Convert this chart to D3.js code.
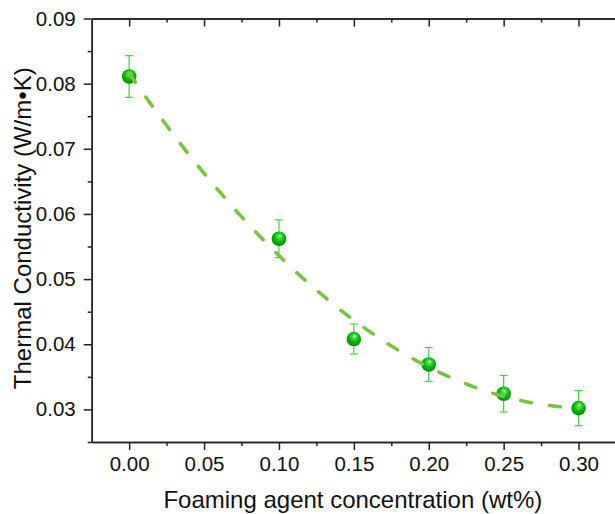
<!DOCTYPE html>
<html>
<head>
<meta charset="utf-8">
<script src="https://cdn.jsdelivr.net/npm/d3@7"></script>
<style>
  html, body { margin: 0; padding: 0; background: #fff; }
  svg { display: block; }
  text { font-family: "Liberation Sans", Arial, Helvetica, sans-serif; fill: #111; }
</style>
</head>
<body>
<svg id="chart" width="615" height="514"></svg>
<script>
// Foaming agent concentration (wt%) and measured thermal conductivity (W/m·K)
const concentration = [0.00, 0.10, 0.15, 0.20, 0.25, 0.30];
const conductivity  = [0.0811, 0.0562, 0.0408, 0.0369, 0.0324, 0.0302];
const errorBars     = [0.0032, 0.0029, 0.0023, 0.0026, 0.0028, 0.0027];

const xTicks = [0.00, 0.05, 0.10, 0.15, 0.20, 0.25, 0.30];
const xMinorTicks = [0.025, 0.075, 0.125, 0.175, 0.225, 0.275, 0.325];
const yTicks = [0.03, 0.04, 0.05, 0.06, 0.07, 0.08, 0.09];
const yMinorTicks = [0.025, 0.035, 0.045, 0.055, 0.065, 0.075, 0.085];

const xTitle = "Foaming agent concentration (wt%)";
const yTitle = "Thermal Conductivity (W/m\u2022K)";

const svg = d3.select("#chart");
const plotLeft = 91.7, plotRight = 616, plotTop = 18.5, plotBottom = 442;

const x = d3.scaleLinear().domain([-0.025, 0.325]).range([plotLeft, plotRight]);
const y = d3.scaleLinear().domain([0.025, 0.09]).range([plotBottom, plotTop]);

// marker shading
const defs = svg.append("defs");
const grad = defs.append("radialGradient").attr("id", "sphere")
  .attr("cx", "50%").attr("cy", "42%").attr("r", "58%")
  .attr("fx", "56%").attr("fy", "30%");
grad.append("stop").attr("offset", "0%").attr("stop-color", "#e6ffe6");
grad.append("stop").attr("offset", "20%").attr("stop-color", "#4fe04f");
grad.append("stop").attr("offset", "62%").attr("stop-color", "#00b400");
grad.append("stop").attr("offset", "100%").attr("stop-color", "#008a00");

// axes
const fmt = d3.format(".2f");
const tickFont = 20.5;
function styleAxis(g) {
  g.select(".domain").attr("stroke", "#222").attr("stroke-width", 1.5);
  g.selectAll(".tick line").attr("stroke", "#222").attr("stroke-width", 1.5);
}

// bottom
svg.append("g").attr("transform", `translate(0,${plotBottom})`)
  .call(d3.axisBottom(x).tickValues(xMinorTicks).tickSize(4).tickFormat("").tickSizeOuter(0))
  .call(styleAxis);
const gxb = svg.append("g").attr("transform", `translate(0,${plotBottom})`)
  .call(d3.axisBottom(x).tickValues(xTicks).tickSize(8).tickFormat(fmt).tickSizeOuter(0).tickPadding(6))
  .call(styleAxis);
gxb.selectAll(".tick text").attr("font-size", tickFont).attr("fill", "#111")
  .attr("font-family", "Liberation Sans, Arial, sans-serif");

// top
svg.append("g").attr("transform", `translate(0,${plotTop})`)
  .call(d3.axisBottom(x).tickValues(xMinorTicks).tickSize(4).tickFormat("").tickSizeOuter(0))
  .call(styleAxis);
svg.append("g").attr("transform", `translate(0,${plotTop})`)
  .call(d3.axisBottom(x).tickValues(xTicks).tickSize(8).tickFormat("").tickSizeOuter(0))
  .call(styleAxis);

// left
svg.append("g").attr("transform", `translate(${plotLeft},0)`)
  .call(d3.axisLeft(y).tickValues(yMinorTicks).tickSize(4).tickFormat("").tickSizeOuter(0))
  .call(styleAxis);
const gyl = svg.append("g").attr("transform", `translate(${plotLeft},0)`)
  .call(d3.axisLeft(y).tickValues(yTicks).tickSize(8).tickFormat(fmt).tickSizeOuter(0).tickPadding(8))
  .call(styleAxis);
gyl.selectAll(".tick text").attr("font-size", tickFont).attr("fill", "#111")
  .attr("font-family", "Liberation Sans, Arial, sans-serif");

// right
svg.append("g").attr("transform", `translate(${plotRight},0)`)
  .call(d3.axisLeft(y).tickValues(yMinorTicks).tickSize(-4).tickFormat("").tickSizeOuter(0))
  .call(styleAxis);
svg.append("g").attr("transform", `translate(${plotRight},0)`)
  .call(d3.axisLeft(y).tickValues(yTicks).tickSize(-8).tickFormat("").tickSizeOuter(0))
  .call(styleAxis);

// axis titles
svg.append("text")
  .attr("x", (plotLeft + plotRight) / 2 - 1).attr("y", 508)
  .attr("text-anchor", "middle").attr("font-size", 24)
  .text(xTitle);
svg.append("text")
  .attr("transform", `translate(31,${(plotTop + plotBottom) / 2 - 2}) rotate(-90)`)
  .attr("text-anchor", "middle").attr("font-size", 24)
  .text(yTitle);

// data
const points = concentration.map((c, i) => ({ c, k: conductivity[i], e: errorBars[i] }));

// error bars
const eb = svg.append("g").attr("stroke", "#4ccc4c").attr("stroke-width", 1.2).attr("fill", "none");
points.forEach(p => {
  eb.append("line").attr("x1", x(p.c)).attr("x2", x(p.c)).attr("y1", y(p.k - p.e)).attr("y2", y(p.k + p.e));
  eb.append("line").attr("x1", x(p.c) - 4).attr("x2", x(p.c) + 4).attr("y1", y(p.k + p.e)).attr("y2", y(p.k + p.e));
  eb.append("line").attr("x1", x(p.c) - 4).attr("x2", x(p.c) + 4).attr("y1", y(p.k - p.e)).attr("y2", y(p.k - p.e));
});

// markers
svg.append("g").selectAll("circle").data(points).join("circle")
  .attr("cx", d => x(d.c)).attr("cy", d => y(d.k)).attr("r", 7.3)
  .attr("fill", "url(#sphere)");

// second-order polynomial least-squares fit
function quadFit(xs, ys) {
  let S = [0, 0, 0, 0, 0], T = [0, 0, 0];
  xs.forEach((xi, i) => {
    for (let p = 0; p < 5; p++) S[p] += Math.pow(xi, p);
    for (let p = 0; p < 3; p++) T[p] += Math.pow(xi, p) * ys[i];
  });
  const A = [[S[0], S[1], S[2], T[0]], [S[1], S[2], S[3], T[1]], [S[2], S[3], S[4], T[2]]];
  for (let i = 0; i < 3; i++) {
    for (let j = i + 1; j < 3; j++) {
      const f = A[j][i] / A[i][i];
      for (let k = i; k < 4; k++) A[j][k] -= f * A[i][k];
    }
  }
  const c = [0, 0, 0];
  for (let i = 2; i >= 0; i--) {
    let s = A[i][3];
    for (let k = i + 1; k < 3; k++) s -= A[i][k] * c[k];
    c[i] = s / A[i][i];
  }
  return c;
}
const coef = quadFit(concentration, conductivity);
const fitX = d3.range(0, 0.3001, 0.003);
const fitLine = d3.line().x(d => x(d)).y(d => y(coef[0] + coef[1] * d + coef[2] * d * d));
svg.append("path").datum(fitX).attr("d", fitLine)
  .attr("fill", "none").attr("stroke", "#7cc242").attr("stroke-width", 3.6)
  .attr("stroke-linecap", "round").attr("stroke-dasharray", "11,18");
</script>
</body>
</html>
